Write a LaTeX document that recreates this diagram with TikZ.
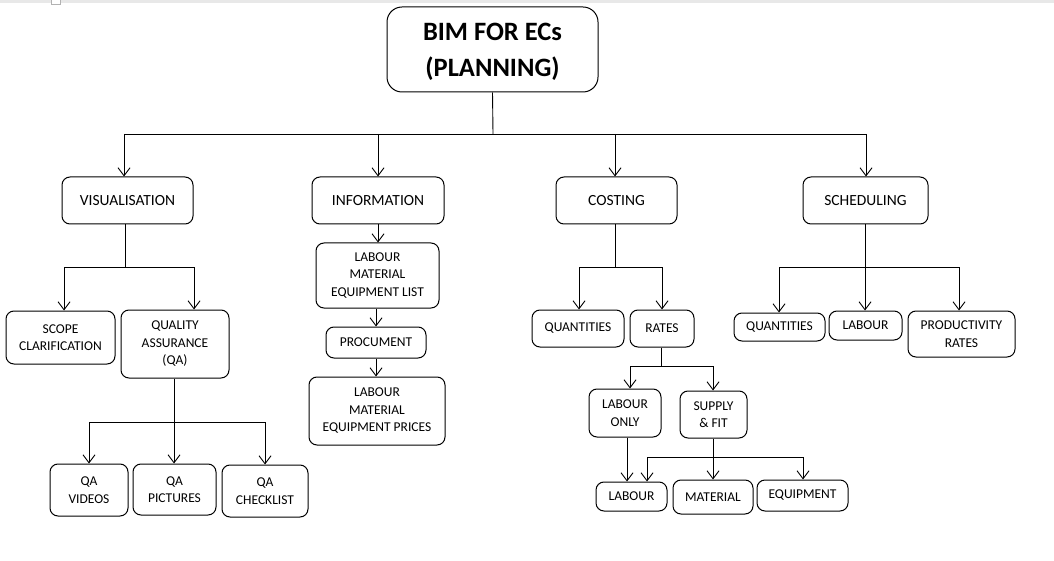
\documentclass[tikz,border=0pt]{standalone}
\usepackage{fontspec}
\setmainfont{Carlito}
\usetikzlibrary{arrows.meta}
\tikzset{
  box/.style={draw, line width=1pt, rounded corners=8pt, inner sep=0pt, align=center,
    font=\fontsize{13.5}{17.5}\selectfont},
  topbox/.style={box, font=\fontsize{15.5}{18}\selectfont},
  titlebox/.style={draw, line width=1pt, rounded corners=15pt, inner sep=0pt, align=center,
    font=\fontsize{26.5}{36}\selectfont\bfseries},
  link/.style={line width=0.9pt},
  arr/.style={line width=0.9pt, -{Straight Barb[length=8pt,width=12pt,line width=0.9pt]}}
}
\begin{document}
\begin{tikzpicture}[x=1pt,y=-1pt]
\useasboundingbox (0,0) rectangle (1054,561);
\fill[white] (0,0) rectangle (1054,561);
\fill[gray!18] (0,0) rectangle (1054,3);
\draw[gray!60, line width=0.6pt, fill=white] (51,-1) rectangle (60,4);

% nodes
\node[titlebox, minimum width=211, minimum height=85] (title) at (492.5,49.5) {\rule{0pt}{23pt}BIM FOR ECs\\(PLANNING)};

\node[topbox, minimum width=131, minimum height=47] (vis) at (127.5,200.5) {VISUALISATION};
\node[topbox, minimum width=132, minimum height=47] (info) at (378,200.5) {INFORMATION};
\node[topbox, minimum width=121, minimum height=47] (cost) at (616.5,200.5) {COSTING};
\node[topbox, minimum width=125, minimum height=47] (sched) at (865.5,200.5) {SCHEDULING};

\node[box, minimum width=109, minimum height=53] (scope) at (60.5,337.5) {SCOPE\\CLARIFICATION};
\node[box, minimum width=108, minimum height=68] (qa) at (175,344) {QUALITY\\ASSURANCE\\(QA)};
\node[box, minimum width=78, minimum height=52] (qav) at (89,490) {QA\\VIDEOS};
\node[box, minimum width=83, minimum height=51] (qap) at (174.5,489.5) {QA\\PICTURES};
\node[box, minimum width=86, minimum height=52] (qac) at (265,491) {QA\\CHECKLIST};

\node[box, minimum width=123, minimum height=65] (lmel) at (377.5,275.5) {LABOUR\\MATERIAL\\EQUIPMENT LIST};
\node[box, minimum width=100, minimum height=31] (proc) at (376,342.5) {PROCUMENT};
\node[box, minimum width=136, minimum height=68] (lmep) at (377,411) {LABOUR\\MATERIAL\\EQUIPMENT PRICES};

\node[box, minimum width=92, minimum height=37] (cq) at (578,328.5) {QUANTITIES};
\node[box, minimum width=64, minimum height=37] (cr) at (662,328.5) {RATES};
\node[box, minimum width=72, minimum height=48] (lo) at (625,413) {LABOUR\\ONLY};
\node[box, minimum width=67, minimum height=47] (sf) at (713.5,414.5) {SUPPLY\\\& FIT};
\node[box, minimum width=71, minimum height=29] (lab) at (631.5,496.5) {LABOUR};
\node[box, minimum width=80, minimum height=34] (mat) at (713,497) {MATERIAL};
\node[box, minimum width=91, minimum height=31] (eq) at (802.5,495.5) {EQUIPMENT};

\node[box, minimum width=91, minimum height=28] (sq) at (779.5,327) {QUANTITIES};
\node[box, minimum width=73, minimum height=29] (sl) at (865.5,325.5) {LABOUR};
\node[box, minimum width=107, minimum height=46] (sp) at (961.5,334) {PRODUCTIVITY\\RATES};

% junction coordinates
\coordinate (t0) at (493,134);
\coordinate (tv) at (124,134);
\coordinate (ti) at (378,134);
\coordinate (tc) at (615,134);
\coordinate (ts) at (866,134);

\coordinate (vs) at (125,267);
\coordinate (v1) at (64,267);
\coordinate (v2) at (194,267);

\coordinate (qs) at (174,422);
\coordinate (q1) at (89,422);
\coordinate (q3) at (265,422);

\coordinate (cs) at (615,267);
\coordinate (c1) at (579,267);
\coordinate (c2) at (662,267);

\coordinate (rs) at (661,366);
\coordinate (r1) at (630,366);
\coordinate (r2) at (713,366);

\coordinate (ls) at (627,0);

\coordinate (fs) at (713,457);
\coordinate (f1) at (647,457);
\coordinate (f3) at (803,457);

\coordinate (ss) at (865,267);
\coordinate (s1) at (779,267);
\coordinate (s3) at (959,267);

% connectors: title
\draw[link] (title.south) -- (t0);
\draw[link] (tv) -- (ts);
\draw[arr] (tv) -- (tv |- vis.north);
\draw[arr] (ti) -- (ti |- info.north);
\draw[arr] (tc) -- (tc |- cost.north);
\draw[arr] (ts) -- (ts |- sched.north);

% visualisation
\draw[link] (vis.south -| vs) -- (vs);
\draw[link] (v1) -- (v2);
\draw[arr] (v1) -- (v1 |- scope.north);
\draw[arr] (v2) -- (v2 |- qa.north);
\draw[link] (qa.south -| qs) -- (qs);
\draw[link] (q1) -- (q3);
\draw[arr] (q1) -- (q1 |- qav.north);
\draw[arr] (qs) -- (qs |- qap.north);
\draw[arr] (q3) -- (q3 |- qac.north);

% information
\draw[arr] (info.south) -- (info.south |- lmel.north);
\draw[arr] (lmel.south -| proc.north) -- (proc.north);
\draw[arr] (proc.south) -- (proc.south |- lmep.north);

% costing
\draw[link] (cost.south -| cs) -- (cs);
\draw[link] (c1) -- (c2);
\draw[arr] (c1) -- (c1 |- cq.north);
\draw[arr] (c2) -- (c2 |- cr.north);
\draw[link] (cr.south -| rs) -- (rs);
\draw[link] (r1) -- (r2);
\draw[arr] (r1) -- (r1 |- lo.north);
\draw[arr] (r2) -- (r2 |- sf.north);
\draw[arr] (lo.south -| ls) -- (lab.north -| ls);
\draw[link] (sf.south -| fs) -- (fs);
\draw[link] (f1) -- (f3);
\draw[arr] (f1) -- (f1 |- lab.north);
\draw[arr] (fs) -- (fs |- mat.north);
\draw[arr] (f3) -- (f3 |- eq.north);

% scheduling
\draw[link] (sched.south -| ss) -- (ss);
\draw[link] (s1) -- (s3);
\draw[arr] (s1) -- (s1 |- sq.north);
\draw[arr] (ss) -- (ss |- sl.north);
\draw[arr] (s3) -- (s3 |- sp.north);
\end{tikzpicture}
\end{document}
